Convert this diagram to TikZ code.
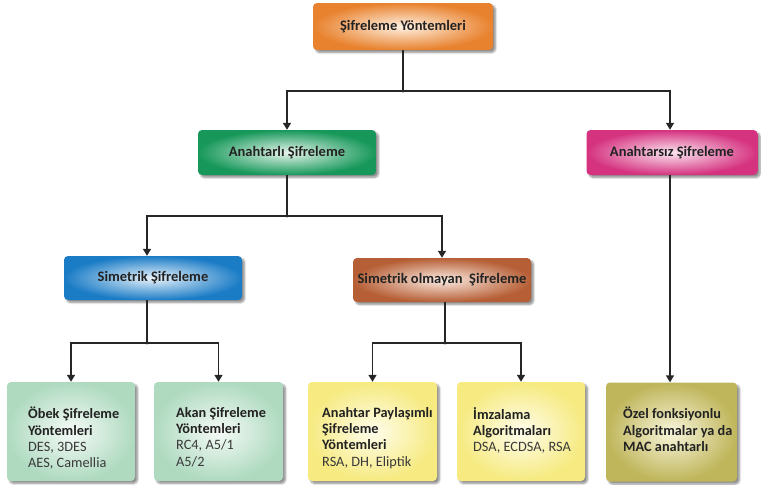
\documentclass[tikz,border=0pt]{standalone}
\usepackage{fontspec}
\setmainfont{Carlito}
\usetikzlibrary{arrows.meta,shadows.blur,calc}
\definecolor{orO}{HTML}{E8822E}\definecolor{orI}{HTML}{FFF1E3}
\definecolor{grO}{HTML}{17985A}\definecolor{grI}{HTML}{E6F5EC}
\definecolor{piO}{HTML}{D5327F}\definecolor{piI}{HTML}{FBE6F1}
\definecolor{blO}{HTML}{1B7CC6}\definecolor{blI}{HTML}{E9F3FB}
\definecolor{brO}{HTML}{B65F36}\definecolor{brI}{HTML}{FBEBE1}
\definecolor{lgO}{HTML}{AFDAC0}\definecolor{lgI}{HTML}{F5FBF7}
\definecolor{yeO}{HTML}{F6EA80}\definecolor{yeI}{HTML}{FFFDEC}
\definecolor{olO}{HTML}{BFB55A}\definecolor{olI}{HTML}{F8F6DC}
\definecolor{txt}{HTML}{222222}
\definecolor{rtxt}{HTML}{3A3A3A}
\begin{document}
\begin{tikzpicture}[x=1pt,y=-1pt,
  shad/.style={blur shadow={shadow xshift=2.5pt,shadow yshift=-2.5pt,shadow blur steps=6,shadow opacity=45}},
  hbox/.style={shad,rounded corners=4pt,minimum width=178pt,minimum height=45pt,inner sep=0pt,
    font=\bfseries\fontsize{14.5}{16}\selectfont,text=txt},
  lbox/.style={shad,rounded corners=4pt,minimum width=128pt,minimum height=99pt,inner sep=0pt},
  btext/.style={anchor=north west,inner sep=0pt,align=left,text=rtxt,
    font=\fontsize{14.3}{16.3}\selectfont,execute at begin node={\vphantom{Ö}}},
  conn/.style={line width=1.6pt,draw=black!85},
  arr/.style={conn,-{Triangle[width=8pt,length=7pt]}},
  dot/.style={fill=black!85}
]
\newcommand{\bl}[1]{\textcolor{txt}{\textbf{#1}}}
\useasboundingbox (0,0) rectangle (761,485);
% header boxes
\node[hbox,inner color=orI,outer color=orO,minimum width=180pt,minimum height=47pt] (T) at (403,26.5) {Şifreleme Yöntemleri};
\node[hbox,inner color=grI,outer color=grO] (A) at (287,152.5) {Anahtarlı Şifreleme};
\node[hbox,inner color=piI,outer color=piO,minimum width=171pt] (N) at (672,152.5) {Anahtarsız Şifreleme};
\node[hbox,inner color=blI,outer color=blO,minimum height=44pt] (S) at (153,278) {Simetrik Şifreleme};
\node[hbox,inner color=brI,outer color=brO,minimum height=44pt] (M) at (442,280) {Simetrik olmayan\ \ Şifreleme};
% leaf boxes
\node[lbox,inner color=lgI,outer color=lgO] (b1) at (71,431.5) {};
\node[lbox,inner color=lgI,outer color=lgO,minimum width=129pt] (b2) at (218.5,431.5) {};
\node[lbox,inner color=yeI,outer color=yeO,minimum width=129pt] (b3) at (372.5,431.5) {};
\node[lbox,inner color=yeI,outer color=yeO] (b4) at (521,431.5) {};
\node[lbox,inner color=olI,outer color=olO,minimum width=131pt] (b5) at (671.5,432) {};
\node[btext] (b1t) at (28,407) {\bl{Öbek Şifreleme}\\\bl{Yöntemleri}\\DES, 3DES\\AES, Camellia};
\node[btext] (b2t) at (176,407) {\bl{Akan Şifreleme}\\\bl{Yöntemleri}\\RC4, A5/1\\A5/2};
\node[btext] (b3t) at (322,407) {\bl{Anahtar Paylaşımlı}\\\bl{Şifreleme}\\\bl{Yöntemleri}\\RSA, DH, Eliptik};
\node[btext] (b4t) at (473,407) {\bl{İmzalama}\\\bl{Algoritmaları}\\DSA, ECDSA, RSA};
\node[btext] (b5t) at (623,407) {\bl{Özel fonksiyonlu}\\\bl{Algoritmalar ya da}\\\bl{MAC anahtarlı}};
% connectors
\coordinate (j1) at (403,91);
\coordinate (j2) at (287,216);
\coordinate (j3) at (147,343);
\coordinate (j4) at (445,343);
\draw[conn] (T.south) -- (j1);
\draw[arr] (j1) -| (A.north);
\draw[arr] (j1) -| ([xshift=-2pt]N.north);
\draw[conn] (A.south) -- (j2);
\draw[arr] (j2) -| ([xshift=-6pt]S.north);
\draw[arr] (j2) -| (M.north);
\draw[conn] ([xshift=-6pt]S.south) -- (j3);
\draw[arr] (j3) -| (b1.north);
\draw[arr] (j3) -| (b2.north);
\draw[conn] ([xshift=3pt]M.south) -- (j4);
\draw[arr] (j4) -| (b3.north);
\draw[arr] (j4) -| (b4.north);
\draw[arr] ([xshift=-2pt]N.south) -- ([xshift=-1.5pt]b5.north);
\foreach \j in {j1,j2,j3,j4} \fill[dot] (\j) circle (1.6pt);
\end{tikzpicture}
\end{document}
